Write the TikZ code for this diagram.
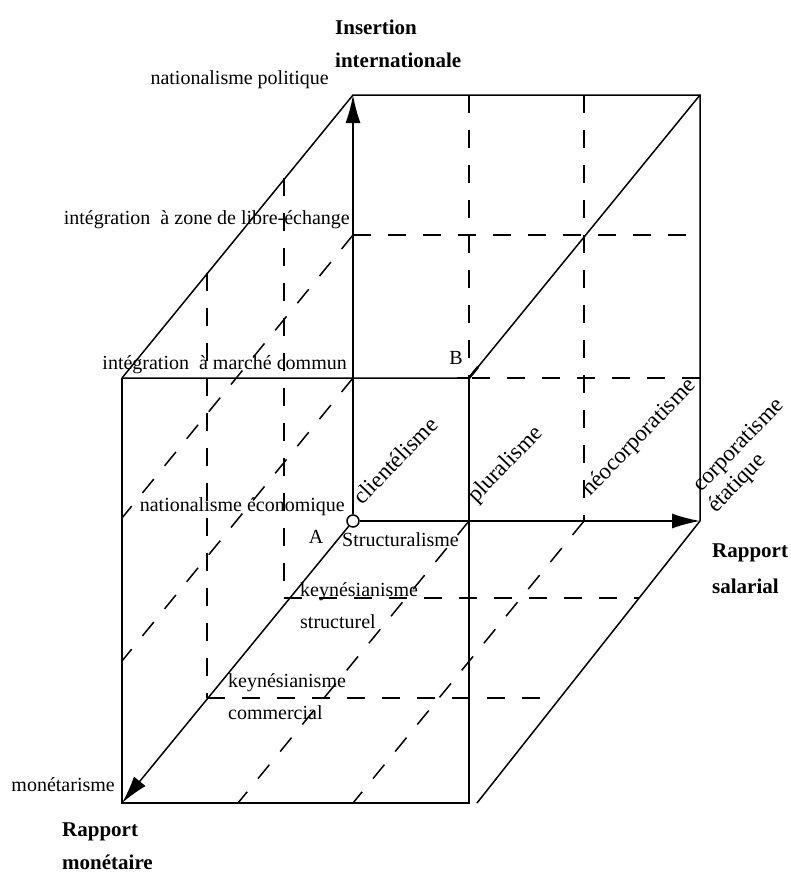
\documentclass[tikz,border=0pt]{standalone}
\usepackage{fontspec}
\setmainfont{Liberation Serif}
\usetikzlibrary{arrows.meta}
\begin{document}
\begin{tikzpicture}[x=1pt,y={(0pt,-1pt)},
  edge/.style={line width=1.5pt},
  gridline/.style={line width=1.5pt, dash pattern=on 18pt off 17pt},
  axis/.style={line width=1.5pt,-{Latex[length=28pt,width=15pt]}},
  lab/.style={font=\fontsize{20}{24}\selectfont, inner sep=0pt},
  ttl/.style={font=\fontsize{21}{25}\selectfont\bfseries, inner sep=0pt},
  rlab/.style={font=\fontsize{23}{27}\selectfont, inner sep=0pt, rotate=46, anchor=base west},
]
\useasboundingbox (0,0) rectangle (791,875);
% corners
\coordinate (A) at (353,521);
\coordinate (Ytop) at (353,95);
\coordinate (Xend) at (700,521);
\coordinate (Zend) at (122,803);
\coordinate (BTR) at (700,95);
\coordinate (FTL) at (122,378);
\coordinate (B) at (469,378);
\coordinate (FBR) at (469,803);
\coordinate (FRg) at (477,803);
% grid points
\coordinate (x1t) at (469,95);
\coordinate (x2t) at (584,95);
\coordinate (x2b) at (584,521);
\coordinate (x1b) at (469,521);
\coordinate (y1l) at (353,235);
\coordinate (y1r) at (700,235);
\coordinate (y2l) at (353,378);
\coordinate (y2r) at (700,378);
\coordinate (l1t) at (284,178);
\coordinate (l1b) at (284,598);
\coordinate (l2t) at (207,273);
\coordinate (l2b) at (207,698);
\coordinate (d1l) at (122,518);
\coordinate (d2l) at (122,661);
\coordinate (f1r) at (639,598);
\coordinate (f2r) at (557,698);
\coordinate (g1b) at (238,803);
\coordinate (g2b) at (353,803);
% dashed grid
\draw[gridline] (x1t) -- (B);
\draw[gridline] (x2t) -- (x2b);
\draw[gridline] (y1l) -- (y1r);
\draw[gridline] (y2r) -- (B);
\draw[gridline] (l1t) -- (l1b);
\draw[gridline] (l2t) -- (l2b);
\draw[gridline] (y1l) -- (d1l);
\draw[gridline] (y2l) -- (d2l);
\draw[gridline] (l1b) -- (f1r);
\draw[gridline] (l2b) -- (f2r);
\draw[gridline] (x1b) -- (g1b);
\draw[gridline] (x2b) -- (g2b);
% solid edges
\draw[edge] (FTL) -- (Ytop) -- (BTR) -- (Xend);
\draw[edge] (FTL) -- (B) -- (BTR);
\draw[edge] (FTL) -- (Zend) -- (FBR) -- (B);
\draw[edge] (FRg) -- (Xend);
\draw[line width=2.6pt] (457,378) -- (B) -- (469,402);
\draw[line width=2.6pt] (B) -- (478,367);
% origin and axes
\node[circle, draw, fill=white, minimum size=12pt, inner sep=0pt, line width=1.5pt] (Ac) at (A) {};
\draw[axis] (Ac) -- (Ytop);
\draw[axis] (Ac) -- (Xend);
\draw[axis] (Ac) -- (Zend);
% titles
\node[ttl, anchor=west] (ins1) at (335,27) {Insertion};
\node[ttl, anchor=west] (ins2) at (335,60) {internationale};
\node[ttl, anchor=west] (rs1) at (712,553) {Rapport};
\node[ttl, anchor=west] (rs2) at (712,586) {salarial};
\node[ttl, anchor=west] (rm1) at (62,832) {Rapport};
\node[ttl, anchor=west] (rm2) at (62,862) {monétaire};
% labels
\node[lab, anchor=east] (np) at (329,80) {nationalisme politique};
\node[lab, anchor=east] (ize) at (350,220) {intégration\ \ à zone de libre-échange};
\node[lab, anchor=east] (imc) at (347,365) {intégration\ \ à marché commun};
\node[lab, anchor=east] (ne) at (345,507) {nationalisme économique};
\node[lab] (Blab) at (456,358) {B};
\node[lab] (Alab) at (316,537) {A};
\node[lab, anchor=west] (st) at (342,540) {Structuralisme};
\node[lab, anchor=west] (ks1) at (300,592) {keynésianisme};
\node[lab, anchor=west] (ks2) at (300,622) {structurel};
\node[lab, anchor=west] (kc1) at (228,683) {keynésianisme};
\node[lab, anchor=west] (kc2) at (228,713) {commercial};
\node[lab, anchor=east] (mon) at (115,785) {monétarisme};
% rotated labels
\node[rlab] (cl) at (362,506) {clientélisme};
\node[rlab] (pl) at (476,504) {pluralisme};
\node[rlab] (neo) at (590,497) {néocorporatisme};
\node[rlab] (co1) at (701,493) {corporatisme};
\node[rlab] (co2) at (716,514) {étatique};
\end{tikzpicture}
\end{document}
